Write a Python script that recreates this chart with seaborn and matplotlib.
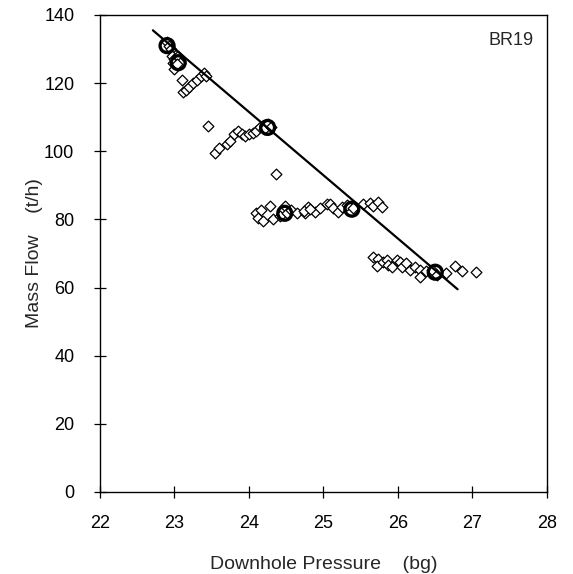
import pandas as pd
import matplotlib
matplotlib.use("Agg")
import matplotlib.pyplot as plt
import seaborn as sns

# measured points (downhole pressure in bg, mass flow in t/h)
pressure = [22.90, 22.92, 22.95, 22.97, 23.00, 23.02, 22.98, 23.05, 23.08, 23.00, 23.03,
            23.10, 23.12, 23.15, 23.20, 23.25, 23.30, 23.35, 23.40, 23.42, 23.45,
            23.54, 23.60, 23.70, 23.75, 23.80, 23.85, 23.90, 23.95, 24.00, 24.05,
            24.10, 24.15, 24.20, 24.25, 24.30, 24.36,
            24.10, 24.16, 24.12, 24.19, 24.28, 24.32, 24.42, 24.48, 24.51, 24.57,
            24.64, 24.75, 24.79, 24.89, 24.95, 25.05, 25.09, 25.13, 25.19, 25.25,
            25.32, 25.40, 25.53, 25.62, 25.66, 25.73, 25.78, 24.74, 24.82,
            25.66, 25.73, 25.72, 25.80, 25.85, 25.87, 25.92, 25.99, 26.03, 26.05,
            26.11, 26.16, 26.23, 26.29, 26.29, 26.38, 26.46, 26.52, 26.64, 26.77,
            26.86, 27.05]
flow = [132.0, 131.0, 130.0, 128.0, 127.0, 125.0, 126.0, 128.0, 126.0, 124.0, 125.5,
        121.0, 117.5, 118.0, 119.0, 120.0, 121.0, 122.0, 123.0, 122.0, 107.5,
        99.5, 101.0, 102.0, 103.0, 105.0, 106.0, 105.0, 104.5, 105.0, 105.5,
        106.0, 107.0, 106.5, 108.0, 107.0, 93.3,
        81.8, 82.7, 80.3, 79.5, 83.9, 80.0, 80.9, 83.9, 82.0, 82.7,
        81.8, 81.8, 83.6, 82.1, 83.3, 84.5, 84.5, 83.3, 82.1, 83.6,
        84.2, 83.3, 84.5, 84.8, 83.9, 85.0, 83.6, 82.5, 83.0,
        68.9, 68.3, 66.3, 67.4, 68.0, 66.6, 66.0, 68.0, 67.4, 66.0,
        67.2, 65.1, 66.0, 65.1, 63.1, 64.8, 65.1, 63.6, 64.2, 66.3,
        64.8, 64.5]

# highlighted points
circle_pressure = [22.90, 23.05, 24.25, 24.48, 25.38, 26.50]
circle_flow = [131.0, 126.0, 107.0, 81.8, 83.0, 64.5]

# fitted line end points
fit_pressure = [22.71, 26.80]
fit_flow = [135.5, 59.5]

df = pd.DataFrame({"p": pressure, "q": flow})
circles = pd.DataFrame({"p": circle_pressure, "q": circle_flow})
fit = pd.DataFrame({"p": fit_pressure, "q": fit_flow})

sns.set_style("white")
plt.rcParams["font.family"] = ["Liberation Sans", "DejaVu Sans"]

fig = plt.figure(figsize=(5.73, 5.74), dpi=100)
ax = fig.add_axes([0.1745, 0.1429, 0.7801, 0.831])

sns.scatterplot(data=df, x="p", y="q", marker="D", s=30, facecolor="white",
                edgecolor="black", linewidth=0.9, ax=ax, zorder=3)
sns.lineplot(data=fit, x="p", y="q", color="black", linewidth=1.6, ax=ax, zorder=4)
sns.scatterplot(data=circles, x="p", y="q", marker="o", s=100, facecolor="none",
                edgecolor="black", linewidth=2.4, ax=ax, zorder=5)

ax.set_xlim(22, 28)
ax.set_ylim(0, 140)
ax.set_xticks(range(22, 29))
ax.set_yticks(range(0, 141, 20))
ax.tick_params(direction="inout", length=9, width=0.9, labelsize=13,
               colors="black", bottom=True, left=True)
ax.tick_params(axis="x", pad=12)
ax.tick_params(axis="y", pad=14)
for s in ax.spines.values():
    s.set_color("black")
    s.set_linewidth(1.0)
ax.set_xlabel("Downhole Pressure    (bg)", fontsize=14, labelpad=17)
ax.set_ylabel("Mass Flow    (t/h)", fontsize=14, labelpad=1)
ax.text(0.97, 0.965, "BR19", transform=ax.transAxes, ha="right", va="top", fontsize=13)

fig.savefig("out.png", dpi=100)
